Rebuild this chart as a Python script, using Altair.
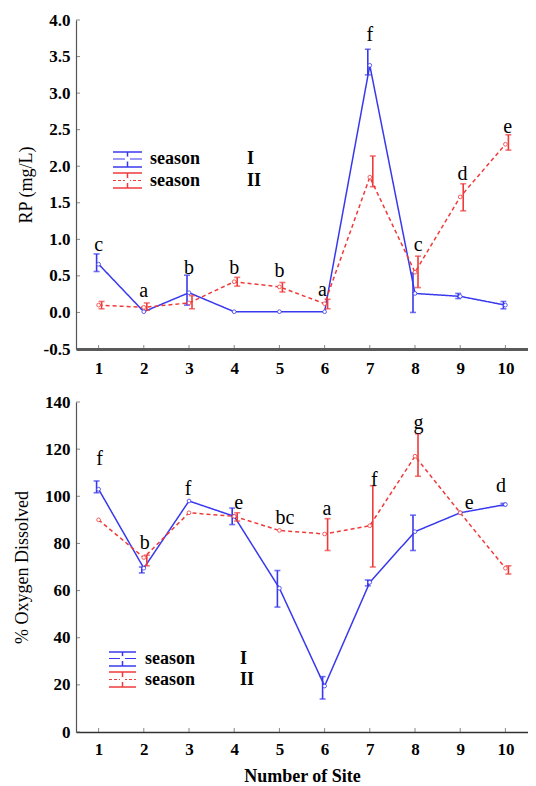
import altair as alt
import pandas as pd

sites = [1, 2, 3, 4, 5, 6, 7, 8, 9, 10]
seasons = ["I", "II"]

# RP (mg/L)
rp_s1 = [0.66, 0.01, 0.27, 0.01, 0.01, 0.01, 3.38, 0.26, 0.22, 0.10]
rp_s1_lo = [0.56, 0.01, 0.10, 0.01, 0.01, 0.01, 3.25, 0.00, 0.19, 0.05]
rp_s1_hi = [0.80, 0.01, 0.51, 0.01, 0.01, 0.01, 3.60, 0.54, 0.26, 0.15]
rp_s2 = [0.10, 0.07, 0.13, 0.42, 0.35, 0.12, 1.85, 0.55, 1.58, 2.30]
rp_s2_lo = [0.05, 0.03, 0.05, 0.36, 0.28, 0.05, 1.72, 0.34, 1.39, 2.22]
rp_s2_hi = [0.15, 0.13, 0.23, 0.48, 0.41, 0.18, 2.14, 0.77, 1.76, 2.43]
rp_letters = ["c", "a", "b", "b", "b", "a", "f", "c", "d", "e"]
rp_letter_x = [1.0, 2.0, 3.0, 4.0, 5.0, 5.95, 7.0, 8.07, 9.05, 10.05]
rp_letter_y = [0.92, 0.29, 0.61, 0.61, 0.57, 0.31, 3.79, 0.92, 1.90, 2.53]
rp_ticks = [-0.5, 0.0, 0.5, 1.0, 1.5, 2.0, 2.5, 3.0, 3.5, 4.0]

# % Oxygen Dissolved
do_s1 = [103.0, 69.5, 98.0, 91.5, 61.0, 19.5, 63.5, 85.0, 93.0, 96.5]
do_s1_lo = [101.5, 67.5, 98.0, 88.0, 53.0, 14.0, 62.0, 77.0, 93.0, 96.0]
do_s1_hi = [106.5, 70.0, 98.0, 95.0, 68.5, 23.5, 64.5, 92.0, 93.0, 97.0]
do_s2 = [90.0, 74.0, 93.0, 91.5, 85.5, 84.0, 87.5, 117.0, 93.0, 69.5]
do_s2_lo = [90.0, 70.5, 93.0, 89.5, 85.5, 77.0, 70.0, 108.5, 93.0, 67.0]
do_s2_hi = [90.0, 75.0, 93.0, 93.0, 85.5, 90.5, 104.5, 126.5, 93.0, 70.5]
do_letters = ["f", "b", "f", "e", "bc", "a", "f", "g", "e", "d"]
do_letter_x = [1.02, 2.02, 2.98, 4.1, 5.12, 6.05, 7.1, 8.08, 9.2, 9.9]
do_letter_y = [116, 80, 103, 97, 91, 94.5, 107, 131, 97, 104.5]
do_ticks = [0, 20, 40, 60, 80, 100, 120, 140]

BLUE = "#3838ee"
RED = "#f03a3a"
SERIF = "Liberation Serif"
W = 452
XMIN, XMAX = 0.5, 10.5


def long_df(m1, l1, h1, m2, l2, h2):
    rows = []
    for s, m, l, h in zip(sites, m1, l1, h1):
        rows.append({"site": s, "season": "I", "mean": m, "lo": l, "hi": h})
    for s, m, l, h in zip(sites, m2, l2, h2):
        rows.append({"site": s, "season": "II", "mean": m, "lo": l, "hi": h})
    return pd.DataFrame(rows)


def legend_layers(x0, x1, tx, rx, rows):
    one = pd.DataFrame({"k": [0]})
    layers = []
    for (yt, ym, yb, color, dashed, roman) in rows:
        base = alt.Chart(one)
        for yy in (yt, yb):
            layers.append(base.mark_rule(color=color, strokeWidth=1.5).encode(
                x=alt.value(x0), x2=alt.value(x1), y=alt.value(yy)))
        layers.append(base.mark_rule(color=color, strokeWidth=1.2,
                                     strokeDash=[3, 2] if dashed else [1, 0]).encode(
            x=alt.value(x0), x2=alt.value(x1), y=alt.value(ym)))
        xc = (x0 + x1) / 2
        layers.append(base.mark_rule(color=color, strokeWidth=1.5).encode(
            x=alt.value(xc), y=alt.value(yt), y2=alt.value(yb)))
        layers.append(base.mark_point(shape="circle", filled=True, fill="white",
                                      stroke="white", size=10, opacity=1).encode(
            x=alt.value(xc), y=alt.value(ym)))
        layers.append(base.mark_text(text="season", font=SERIF, fontWeight="bold",
                                     fontSize=18, align="left", baseline="middle",
                                     color="black").encode(
            x=alt.value(tx), y=alt.value(ym)))
        layers.append(base.mark_text(text=roman, font=SERIF, fontWeight="bold",
                                     fontSize=18, align="left", baseline="middle",
                                     color="black").encode(
            x=alt.value(rx), y=alt.value(ym)))
    return layers


def panel(df, letters, lx, ly, ydomain, ytitle, yvalues, ylabel_expr, height,
          xaxis, leg, titlepad):
    xscale = alt.Scale(domain=[XMIN, XMAX], nice=False, zero=False)
    yscale = alt.Scale(domain=ydomain, nice=False, zero=False)
    yaxis = alt.Axis(title=ytitle, values=yvalues, labelExpr=ylabel_expr,
                     titlePadding=titlepad, grid=False, ticks=False,
                     labelPadding=6, domainColor="#555", domainWidth=1.2,
                     labelOverlap=False, labelBound=False)
    base = alt.Chart(df)
    color = alt.Color("season:N", scale=alt.Scale(domain=seasons, range=[BLUE, RED]),
                      legend=None)
    dash = alt.StrokeDash("season:N", scale=alt.Scale(domain=seasons,
                                                      range=[[1, 0], [4, 3]]),
                          legend=None)
    lines = base.mark_line(strokeWidth=1.5).encode(
        x=alt.X("site:Q", scale=xscale, axis=xaxis),
        y=alt.Y("mean:Q", scale=yscale, axis=yaxis),
        color=color, strokeDash=dash, detail="season:N")
    layers = [lines]
    # inward axis ticks
    ytk = pd.DataFrame({"v": yvalues, "x0": [XMIN] * len(yvalues)})
    layers.append(alt.Chart(ytk).mark_tick(color="#555", orient="horizontal",
                                           size=4, thickness=1, xOffset=2).encode(
        x=alt.X("x0:Q", axis=xaxis), y=alt.Y("v:Q", axis=yaxis)))
    xtk = pd.DataFrame({"s": sites, "y0": [ydomain[0]] * len(sites)})
    layers.append(alt.Chart(xtk).mark_tick(color="#555", orient="vertical",
                                           size=4, thickness=1, yOffset=-2).encode(
        x=alt.X("s:Q", axis=xaxis), y=alt.Y("y0:Q", axis=yaxis)))
    for s, c, off in (("I", BLUE, -2), ("II", RED, 3)):
        sub = base.transform_filter(alt.datum.season == s).transform_filter(
            alt.datum.hi > alt.datum.lo)
        layers.append(sub.mark_rule(color=c, strokeWidth=1.6, xOffset=off).encode(
            x=alt.X("site:Q", axis=xaxis), y=alt.Y("lo:Q", axis=yaxis), y2="hi:Q"))
        for f in ("lo", "hi"):
            layers.append(sub.mark_tick(color=c, orient="horizontal", size=6,
                                        thickness=1.6, xOffset=off).encode(
                x=alt.X("site:Q", axis=xaxis), y=alt.Y(f"{f}:Q", axis=yaxis)))
    layers.append(base.mark_point(shape="circle", filled=True, fill="white",
                                  size=14, strokeWidth=0.8, opacity=1).encode(
        x=alt.X("site:Q", axis=xaxis), y=alt.Y("mean:Q", axis=yaxis),
        stroke=alt.Stroke("season:N", scale=alt.Scale(domain=seasons,
                                                      range=[BLUE, RED]),
                          legend=None)))
    ldf = pd.DataFrame({"x": lx, "y": ly, "t": letters})
    layers.append(alt.Chart(ldf).mark_text(font=SERIF, fontSize=20, color="black",
                                           baseline="middle").encode(
        x=alt.X("x:Q", axis=xaxis), y=alt.Y("y:Q", axis=yaxis), text="t:N"))
    layers += leg
    return alt.layer(*layers).properties(width=W, height=height)


top_df = long_df(rp_s1, rp_s1_lo, rp_s1_hi, rp_s2, rp_s2_lo, rp_s2_hi)
bot_df = long_df(do_s1, do_s1_lo, do_s1_hi, do_s2, do_s2_lo, do_s2_hi)

top_leg = legend_layers(37, 66, 74, 171,
                        [(132, 139, 147, BLUE, False, "I"),
                         (153, 160.5, 168, RED, True, "II")])
bot_leg = legend_layers(33, 60, 69, 164,
                        [(250, 256.5, 264, BLUE, False, "I"),
                         (270, 277.5, 285, RED, True, "II")])

top = panel(top_df, rp_letters, rp_letter_x, rp_letter_y, [-0.5, 4.0],
            "RP  (mg/L)", rp_ticks,
            "(datum.value < 0 ? '-' : '') + format(abs(datum.value), '.1f')", 329,
            alt.Axis(title=None, values=sites, ticks=False, labelPadding=11,
                     grid=False, domainColor="#5a5a5a", domainWidth=3),
            top_leg, 8)
bot = panel(bot_df, do_letters, do_letter_x, do_letter_y, [0, 140],
            "% Oxygen Dissolved", do_ticks,
            "format(datum.value, 'd')", 330,
            alt.Axis(title="Number of Site", values=sites, ticks=False,
                     labelPadding=9, grid=False, domainColor="#333",
                     domainWidth=1.5, titlePadding=10),
            bot_leg, 13)

chart = alt.vconcat(top, bot, spacing=17).properties(
    padding={"left": 5, "top": 3, "right": 0, "bottom": 0}
).configure_view(stroke=None).configure_axis(
    labelFont=SERIF, labelFontWeight="bold", labelFontSize=17, labelColor="black",
    titleFont=SERIF, titleFontSize=18, titleColor="black", titleFontWeight="normal",
    labelOverlap=False
).configure_axisX(titleFontWeight="bold")

chart.save("out.html", embed_options={"renderer": "svg", "actions": False})
